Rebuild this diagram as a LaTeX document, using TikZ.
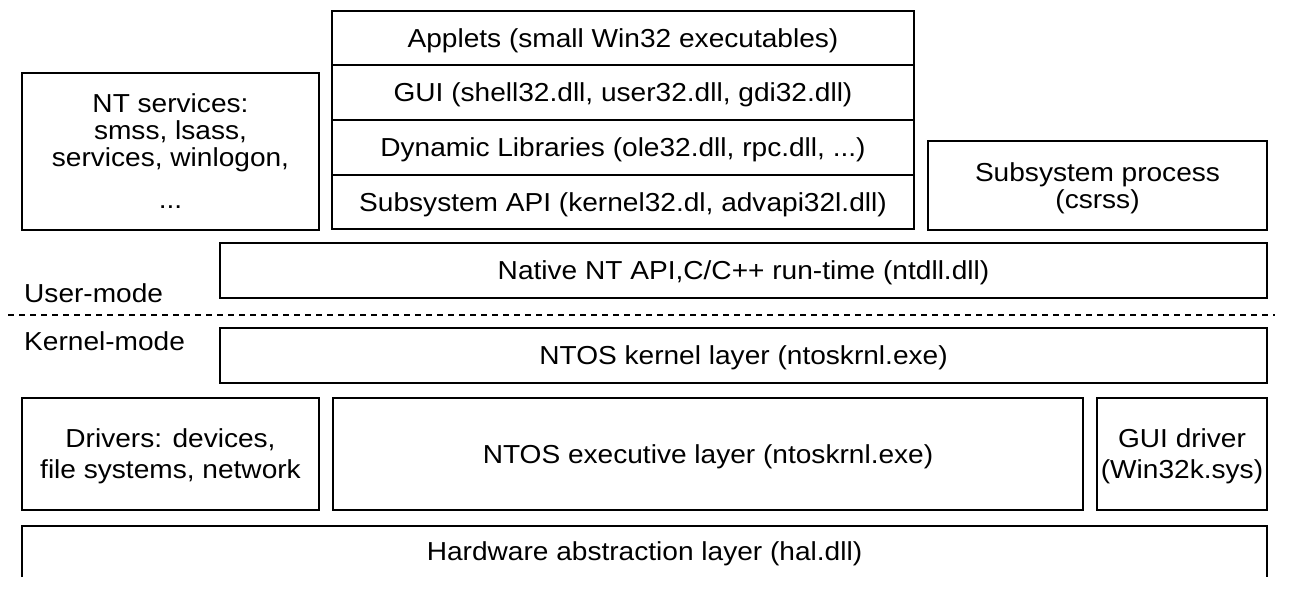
\documentclass[tikz,border=0pt]{standalone}
\usepackage{fontspec}
\setmainfont{Liberation Sans}[FakeStretch=1.08]
\usetikzlibrary{positioning}

\tikzset{
 layer/.style={draw, line width=2.2pt, outer sep=0pt, inner sep=0pt, align=center,
   text depth=0pt, anchor=north west, font=\fontsize{26}{27}\selectfont},
 tallrows/.style={font=\fontsize{26}{31}\selectfont},
 modetext/.style={anchor=base west, inner sep=0pt, font=\fontsize{26}{27}\selectfont},
}

\begin{document}
\begin{tikzpicture}[x=1pt, y=-1pt]
\useasboundingbox (0,0) rectangle (1300,606);
% user-mode processes
\node[layer, minimum width=297, minimum height=157] (ntsvc) at (22,73)
  {NT services:\\smss, lsass,\\services, winlogon,\\[15pt]...};
\node[layer, minimum width=582, minimum height=54] (applets) at (332,11)
  {Applets (small Win32 executables)};
\node[layer, minimum width=582, minimum height=55, below=0pt of applets] (gui)
  {GUI (shell32.dll, user32.dll, gdi32.dll)};
\node[layer, minimum width=582, minimum height=55, below=0pt of gui] (dynlib)
  {Dynamic Libraries (ole32.dll, rpc.dll, ...)};
\node[layer, minimum width=582, minimum height=54, below=0pt of dynlib] (subapi)
  {Subsystem API (kernel32.dl, advapi32l.dll)};
\node[layer, minimum width=339, minimum height=89] (csrss) at (928,141)
  {Subsystem process\\(csrss)};
\node[layer, minimum width=1047, minimum height=55] (ntdll) at (220,243)
  {Native NT API,C/C++ run-time (ntdll.dll)};
% user/kernel border
\coordinate (borderL) at (8,315);
\coordinate (borderR) at (1275,315);
\draw[line width=2pt, dash pattern=on 6pt off 5pt] (borderL) -- (borderR);
\node[modetext] (umode) at (24,302) {User-mode};
\node[modetext] (kmode) at (24,350) {Kernel-mode};
% kernel-mode
\node[layer, minimum width=1047, minimum height=55] (kernel) at (220,328)
  {NTOS kernel layer (ntoskrnl.exe)};
\node[layer, tallrows, minimum width=297, minimum height=112] (drivers) at (22,398)
  {Drivers: devices,\\file systems, network};
\node[layer, minimum width=750, minimum height=112] (exec) at (333,398)
  {NTOS executive layer (ntoskrnl.exe)};
\node[layer, tallrows, minimum width=170, minimum height=112] (win32k) at (1097,398)
  {GUI driver\\(Win32k.sys)};
\node[layer, draw=none, minimum width=1245, minimum height=51] (hal) at (22,526)
  {Hardware abstraction layer (hal.dll)};
\draw[line width=2.2pt] (hal.south west) -- (hal.north west) -- (hal.north east) -- (hal.south east);
\end{tikzpicture}
\end{document}
